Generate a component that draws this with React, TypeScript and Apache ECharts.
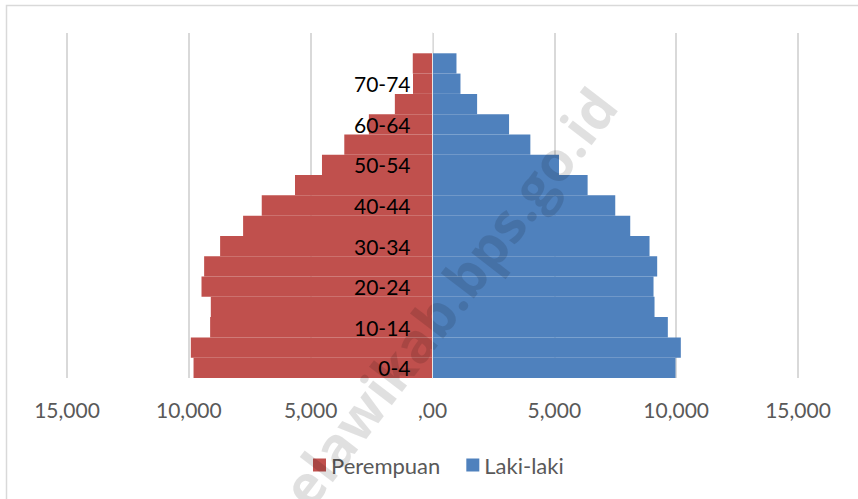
import React, { useEffect, useRef } from "react";
import * as echarts from "echarts";

const ageGroups = ["0-4", "5-9", "10-14", "15-19", "20-24", "25-29", "30-34", "35-39", "40-44", "45-49", "50-54", "55-59", "60-64", "65-69", "70-74", "75+", ""];
const perempuan = [9807, 9918, 9126, 9098, 9480, 9372, 8716, 7773, 7008, 5643, 4536, 3620, 2611, 1545, 800, 810, null];
const lakiLaki = [9973, 10191, 9658, 9112, 9071, 9221, 8907, 8115, 7500, 6366, 5191, 4016, 3142, 1831, 1148, 984, null];
const xTicks = { min: -15000, max: 15000, interval: 5000 };

const FONT = "Lato, 'Open Sans', sans-serif";
const GRID_LEFT = 67;
const GRID_RIGHT = 60;
const WIDTH = 858;

function fmt(v: number): string {
  if (v === 0) return ",00";
  return Math.abs(v).toLocaleString("en-US");
}

export default function App() {
  const ref = useRef<HTMLDivElement>(null);
  useEffect(() => {
    if (!ref.current) return;
    const chart = echarts.init(ref.current, null, { renderer: "svg" });
    const plotW = WIDTH - GRID_LEFT - GRID_RIGHT;
    const zeroOffset = (plotW * (0 - xTicks.min)) / (xTicks.max - xTicks.min);
    chart.setOption({
      animation: false,
      backgroundColor: "#ffffff",
      grid: {
        left: GRID_LEFT,
        right: GRID_RIGHT,
        top: 33,
        bottom: 121,
        containLabel: false,
        outerBoundsMode: "none",
      },
      legend: {
        left: 308,
        top: 449,
        itemWidth: 13,
        itemHeight: 13,
        itemGap: 26,
        icon: "rect",
        textStyle: { color: "#595959", fontSize: 22, fontFamily: FONT },
        data: ["Perempuan", "Laki-laki"],
      },
      xAxis: {
        type: "value",
        min: xTicks.min,
        max: xTicks.max,
        interval: xTicks.interval,
        axisLine: { show: false },
        axisTick: { show: false },
        splitLine: { show: true, lineStyle: { color: "#d9d9d9", width: 2 } },
        axisLabel: {
          formatter: (v: number) => fmt(v),
          color: "#595959",
          fontSize: 21,
          fontFamily: FONT,
          margin: 21,
        },
      },
      yAxis: {
        type: "category",
        data: ageGroups,
        z: 10,
        offset: -zeroOffset,
        axisLine: { show: true, onZero: false, lineStyle: { color: "#e6e6e6", width: 1 } },
        axisTick: { show: false },
        axisLabel: {
          interval: 1,
          color: "#000000",
          fontSize: 21,
          fontFamily: FONT,
          margin: 22,
        },
      },
      series: [
        {
          name: "Perempuan",
          type: "bar",
          stack: "pop",
          barCategoryGap: "0%",
          itemStyle: { color: "#c0504d" },
          data: perempuan.map((v) => (v === null ? null : -v)),
        },
        {
          name: "Laki-laki",
          type: "bar",
          stack: "pop",
          barCategoryGap: "0%",
          itemStyle: { color: "#4f81bd" },
          data: lakiLaki,
        },
      ],
      graphic: [
        {
          type: "rect",
          left: 4,
          top: 3,
          shape: { width: 900, height: 600 },
          style: { fill: "none", stroke: "#d9d9d9", lineWidth: 1.5 },
          silent: true,
          z: -10,
        },
        {
          type: "text",
          x: 432,
          y: 318,
          rotation: (52.5 * Math.PI) / 180,
          z: 5,
          silent: true,
          style: {
            text: "melawikab.bps.go.id",
            fontSize: 55,
            fontWeight: "bold",
            fontFamily: "'Open Sans', sans-serif",
            fill: "rgba(0,0,0,0.12)",
            align: "center",
            verticalAlign: "middle",
          },
        },
      ],
    });
    return () => chart.dispose();
  }, []);
  return <div ref={ref} style={{ position: "fixed", left: 0, top: 0, width: 858, height: 499 }} />;
}
